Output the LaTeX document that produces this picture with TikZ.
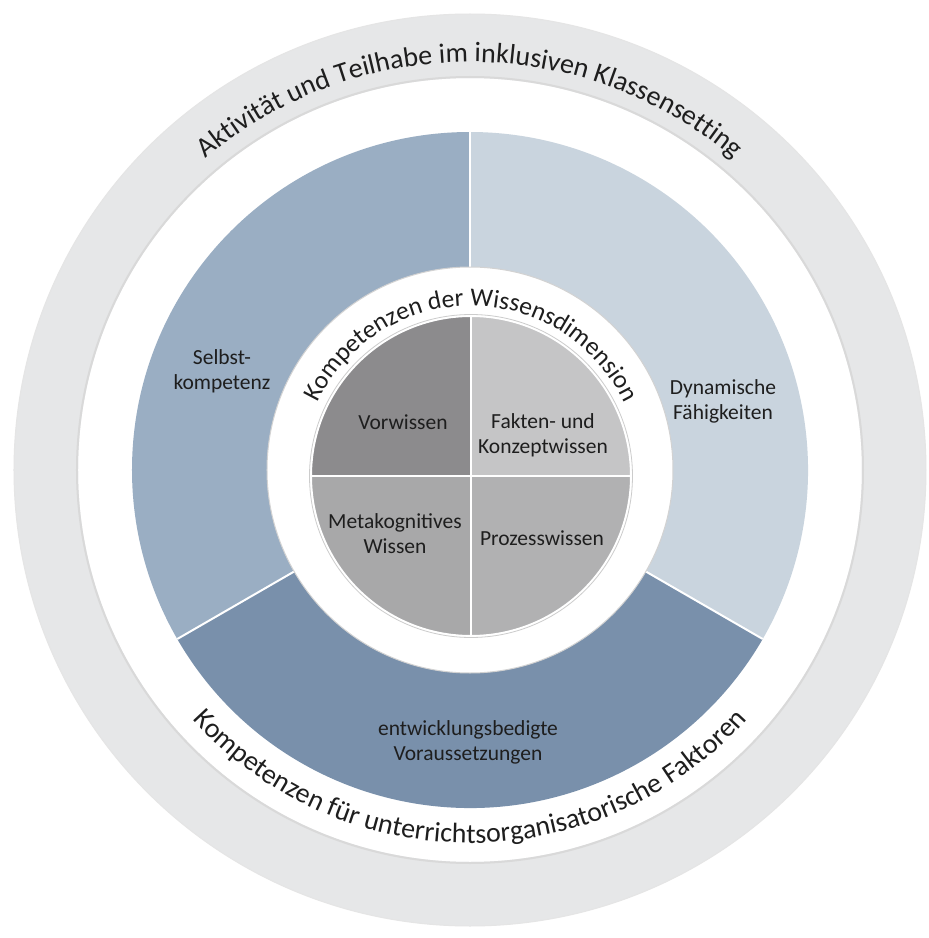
\documentclass[tikz,border=0pt]{standalone}
\usepackage{fontspec}
\setmainfont{Carlito}
\usetikzlibrary{decorations.text}
\definecolor{bandgrey}{HTML}{E6E7E8}
\definecolor{selbstblue}{HTML}{9AAEC3}
\definecolor{dynblue}{HTML}{C9D4DE}
\definecolor{entwblue}{HTML}{7990AB}
\definecolor{vorgrey}{HTML}{8C8B8D}
\definecolor{faktgrey}{HTML}{C5C5C6}
\definecolor{metagrey}{HTML}{A8A8A9}
\definecolor{prozgrey}{HTML}{B1B1B2}
\definecolor{txt}{HTML}{1E1E1E}
\newcommand\lblfont{\fontsize{21.5}{25}\selectfont}
\newcommand\arcfont{\fontsize{28}{32}\selectfont}
\newcommand\innerarcfont{\fontsize{25.5}{30}\selectfont}
\tikzset{lbl/.style={align=center,font=\lblfont,text=txt}}

\begin{document}
\begin{tikzpicture}[x=1pt,y=1pt]
	\useasboundingbox[fill=white] (-470,-468) rectangle (459,470);
	\coordinate (O) at (0,0);
	\coordinate (I) at (1,-6);
	% outer band
	\fill[bandgrey,even odd rule] (O) circle[radius=456pt] (O) circle[radius=392pt];
	\draw[gray!30,line width=2pt] (O) circle[radius=393pt];
	\draw[gray!20,line width=1pt] (O) circle[radius=456pt];
	% blue sectors
	\fill[selbstblue] (O) -- (90:338pt) arc[start angle=90,end angle=210,radius=338pt] -- cycle;
	\fill[dynblue] (O) -- (-30:338pt) arc[start angle=-30,end angle=90,radius=338pt] -- cycle;
	\fill[entwblue] (O) -- (210:338pt) arc[start angle=210,end angle=330,radius=338pt] -- cycle;
	\foreach \a in {90,210,330}
		\draw[white,line width=2pt] (O) -- (\a:338pt);
	% white disc
	\fill[white] (O) circle[radius=203pt];
	\draw[gray!35,line width=1pt] (O) circle[radius=203pt];
	% quadrants
	\fill[vorgrey] (I) -- ++(0,160) arc[start angle=90,end angle=180,radius=160pt] -- cycle;
	\fill[faktgrey] (I) -- ++(160,0) arc[start angle=0,end angle=90,radius=160pt] -- cycle;
	\fill[metagrey] (I) -- ++(-160,0) arc[start angle=180,end angle=270,radius=160pt] -- cycle;
	\fill[prozgrey] (I) -- ++(0,-160) arc[start angle=270,end angle=360,radius=160pt] -- cycle;
	\draw[white,line width=2.5pt] (I) ++(0,160) -- ++(0,-320) (I) ++(-160,0) -- ++(320,0);
	\draw[white,line width=2pt] (I) circle[radius=160pt];
	\draw[gray!40,line width=0.8pt] (I) circle[radius=161.5pt];
	% labels
	\node[lbl] (selbst) at (-248,99) {Selbst-\\kompetenz};
	\node[lbl] (dyn) at (253,69) {Dynamische\\Fähigkeiten};
	\node[lbl] (entw) at (-2,-272) {entwicklungsbedigte\\Voraussetzungen};
	\node[lbl] (vor) at (-67,48) {Vorwissen};
	\node[lbl] (fakt) at (73,35) {Fakten- und\\Konzeptwissen};
	\node[lbl] (meta) at (-75,-64) {Metakognitives\\Wissen};
	\node[lbl] (proz) at (72,-68) {Prozesswissen};
	% curved titles
	\path[decorate,decoration={text along path,text align=center,
		text={|\arcfont\color{txt}|Aktivität und Teilhabe im inklusiven Klassensetting}}]
		(170:408pt) arc[start angle=170,end angle=10,radius=408pt];
	\path[decorate,decoration={text along path,text align=center,
		text={|\arcfont\color{txt}|Kompetenzen für unterrichtsorganisatorische Faktoren}}]
		(190:373pt) arc[start angle=190,end angle=350,radius=373pt];
	\path[decorate,decoration={text along path,text align=center,
		text={|\innerarcfont\color{txt}|Kompetenzen der Wissensdimension}}]
		(-169,-6) arc[start angle=180,end angle=0,radius=170pt];
\end{tikzpicture}
\end{document}
